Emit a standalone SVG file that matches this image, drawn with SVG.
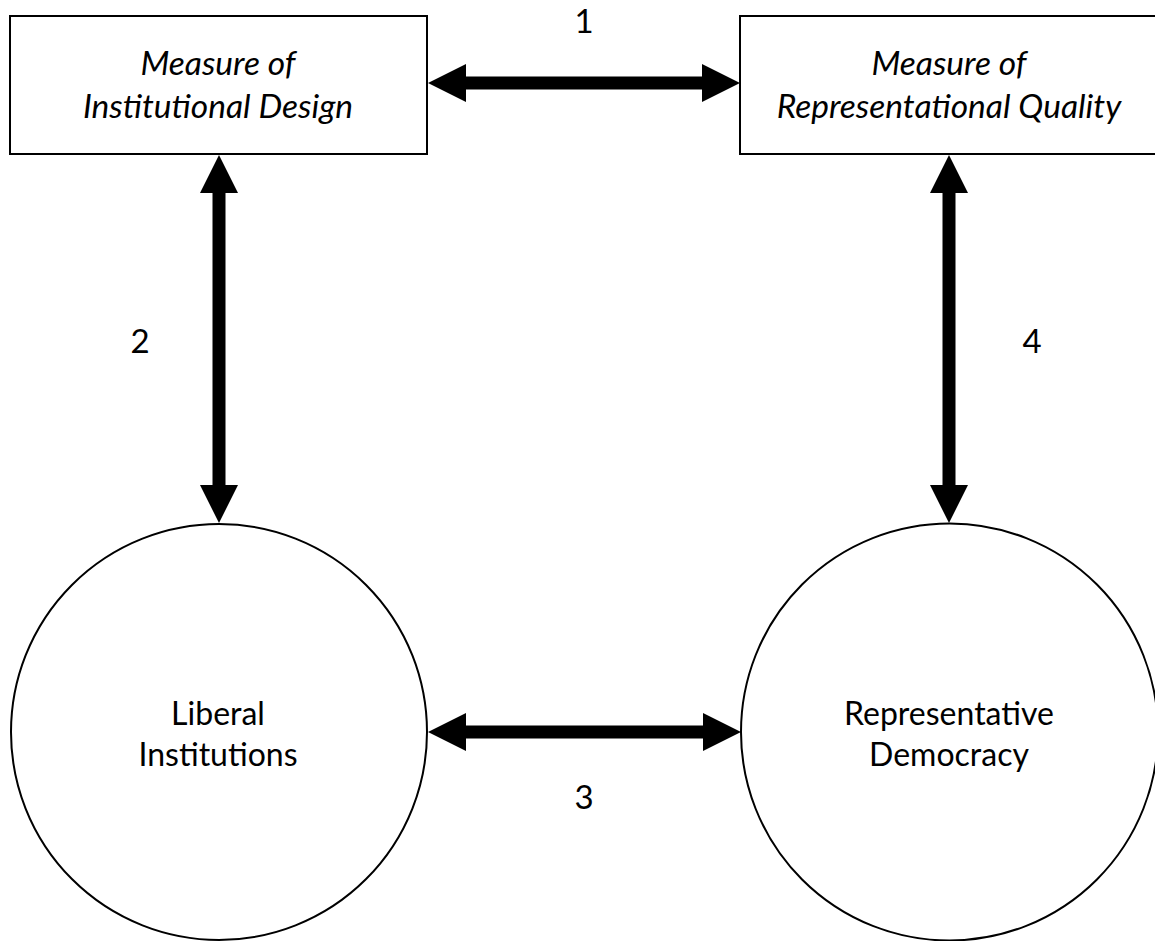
<svg xmlns="http://www.w3.org/2000/svg" width="1155" height="941" viewBox="0 0 1155 941">
  <style>
    .shape { fill: #ffffff; stroke: #000000; stroke-width: 2; }
    .label { font-family: Lato, "Liberation Sans", sans-serif; font-size: 32px; fill: #000000; text-anchor: middle; }
    .measure { font-style: italic; font-size: 33.5px; }
    .num { font-family: Lato, "Liberation Sans", sans-serif; font-size: 33px; fill: #000000; text-anchor: middle; }
    .link { stroke: #000000; stroke-width: 13; fill: none; marker-start: url(#head); marker-end: url(#head); }
  </style>
  <defs>
    <marker id="head" viewBox="0 0 38 38" markerWidth="38" markerHeight="38" refX="0" refY="19" markerUnits="userSpaceOnUse" orient="auto-start-reverse">
      <path d="M0,0 L38,19 L0,38 Z" fill="#000000"/>
    </marker>
  </defs>
  <rect width="1155" height="941" fill="#ffffff"/>

  <g id="institutional-design">
    <rect class="shape" x="10" y="16" width="417" height="138"/>
    <text class="label measure" x="218" y="75">Measure of</text>
    <text class="label measure" x="218" y="118">Institutional Design</text>
  </g>

  <g id="representational-quality">
    <rect class="shape" x="740" y="16" width="425" height="138"/>
    <text class="label measure" x="949" y="75">Measure of</text>
    <text class="label measure" x="949" y="118">Representational Quality</text>
  </g>

  <g id="liberal-institutions">
    <circle class="shape" cx="219" cy="732" r="208"/>
    <text class="label" x="218" y="725">Liberal</text>
    <text class="label" x="218" y="766">Institutions</text>
  </g>

  <g id="representative-democracy">
    <circle class="shape" cx="949.5" cy="732" r="208.5"/>
    <text class="label" x="949" y="725">Representative</text>
    <text class="label" x="949" y="766">Democracy</text>
  </g>

  <g id="connectors">
    <line class="link" x1="466" y1="83" x2="702" y2="83"/>
    <line class="link" x1="219" y1="193" x2="219" y2="485"/>
    <line class="link" x1="466" y1="732" x2="703" y2="732"/>
    <line class="link" x1="949" y1="193" x2="949" y2="485"/>
    <text class="num" x="584" y="33">1</text>
    <text class="num" x="140" y="353">2</text>
    <text class="num" x="584" y="809">3</text>
    <text class="num" x="1032" y="353">4</text>
  </g>
</svg>
